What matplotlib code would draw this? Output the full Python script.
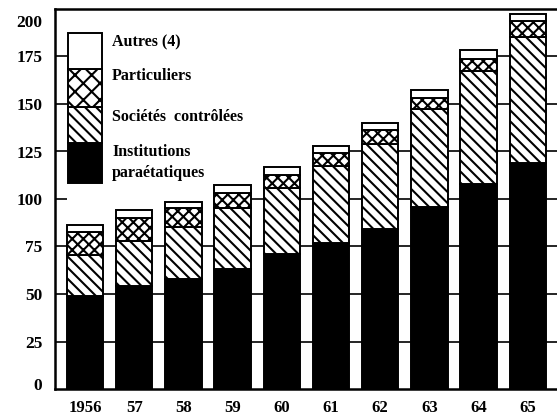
import matplotlib
matplotlib.use("Agg")
import matplotlib.pyplot as plt
from matplotlib.patches import Rectangle
import matplotlib.transforms as mtransforms
import numpy as np

# ---- data ----
years = ["1956", "57", "58", "59", "60", "61", "62", "63", "64", "65"]
institutions = [49, 54, 58, 63, 71, 77, 84, 96, 108, 119]
societes = [21.5, 24, 27.5, 32, 35, 40.5, 45, 51.5, 59.5, 66.5]
particuliers = [12, 12, 10, 8, 6.7, 6.6, 7.4, 5.8, 6.3, 8.4]
autres = [3.7, 4, 2.8, 4.5, 4.4, 4, 3.7, 3.9, 4.4, 3.6]
series_names = ["Institutions\nparaétatiques", "Sociétés  contrôlées", "Particuliers", "Autres (4)"]
yticks = [0, 25, 50, 75, 100, 125, 150, 175, 200]

plt.rcParams["font.family"] = ["Liberation Serif", "DejaVu Serif"]
plt.rcParams["font.weight"] = "bold"
plt.rcParams["hatch.linewidth"] = 1.5
plt.rcParams["hatch.color"] = "black"

W, H = 557, 419
fig = plt.figure(figsize=(W / 100, H / 100), dpi=100)
ax = fig.add_axes([55 / W, 1 - 389 / H, 520 / W, 380 / H])

series = [institutions, societes, particuliers, autres]
faces = ["black", "white", "white", "white"]
hatches = [None, "\\\\\\", "xxx", None]

x = np.arange(len(years))
bw = 0.74
bottom = np.zeros(len(years))
for vals, fc, h in zip(series, faces, hatches):
    ax.bar(x, vals, bw, bottom=bottom, color=fc, edgecolor="black",
           hatch=h, linewidth=1.4, zorder=3)
    bottom = bottom + np.array(vals)
totals = bottom

left = -30 / 49.2
right = left + 520 / 49.2
ax.set_xlim(left, right)
ax.set_ylim(0, 200)

# grid segments only in gaps where both neighbouring bars reach the level
levels = [v for v in yticks if 0 < v < 200]
for lv in levels:
    ax.hlines(lv, left, x[0] - bw / 2, color="black", lw=1.2, zorder=2)
    for i in range(len(years) - 1):
        if lv < min(totals[i], totals[i + 1]):
            ax.hlines(lv, x[i] + bw / 2, x[i + 1] - bw / 2, color="black", lw=1.2, zorder=2)
    if lv < totals[-1]:
        ax.hlines(lv, x[-1] + bw / 2, right, color="black", lw=1.2, zorder=2)

ax.set_yticks(yticks)
ax.set_yticklabels([str(v) for v in yticks])
ax.set_xticks(x)
ax.set_xticklabels(years)
ax.tick_params(axis="y", length=0, pad=9, labelsize=12.5)
ax.tick_params(axis="x", length=0, pad=8, labelsize=12)
for lab in ax.get_yticklabels():
    lab.set_fontweight("bold")
for lab in ax.get_xticklabels():
    lab.set_fontweight("bold")

# small offsets for end labels as in the print
ylabs = ax.get_yticklabels()
ylabs[-1].set_transform(ylabs[-1].get_transform() +
                        mtransforms.ScaledTranslation(0, -12 / 100, fig.dpi_scale_trans))
ylabs[0].set_transform(ylabs[0].get_transform() +
                       mtransforms.ScaledTranslation(0, 5 / 100, fig.dpi_scale_trans))

for s in ["left", "bottom", "top"]:
    ax.spines[s].set_linewidth(1.8)
ax.spines["right"].set_visible(False)

# ---- legend as stacked box ----
def fx(px):
    return px / W

def fy(py):
    return 1 - py / H

segs = [(143, 183), (107, 143), (69, 107), (33, 69)]
leg_hatches = [None, "\\\\\\", "xx", None]
for (y0, y1), fc, h in zip(segs, faces, leg_hatches):
    fig.add_artist(Rectangle((fx(68), fy(y1)), fx(102) - fx(68), fy(y0) - fy(y1),
                             transform=fig.transFigure, facecolor=fc, edgecolor="black",
                             hatch=h, linewidth=1.4, zorder=5))

label_pos = [(152, "Institutions"), (173, "paraétatiques"), (117, series_names[1]),
             (76, series_names[2]), (42, series_names[3])]
for py, txt in label_pos:
    fig.text(fx(112), fy(py), txt, ha="left", va="center", fontsize=11.5,
             fontweight="bold", zorder=6)

fig.savefig("out.png", dpi=100)
